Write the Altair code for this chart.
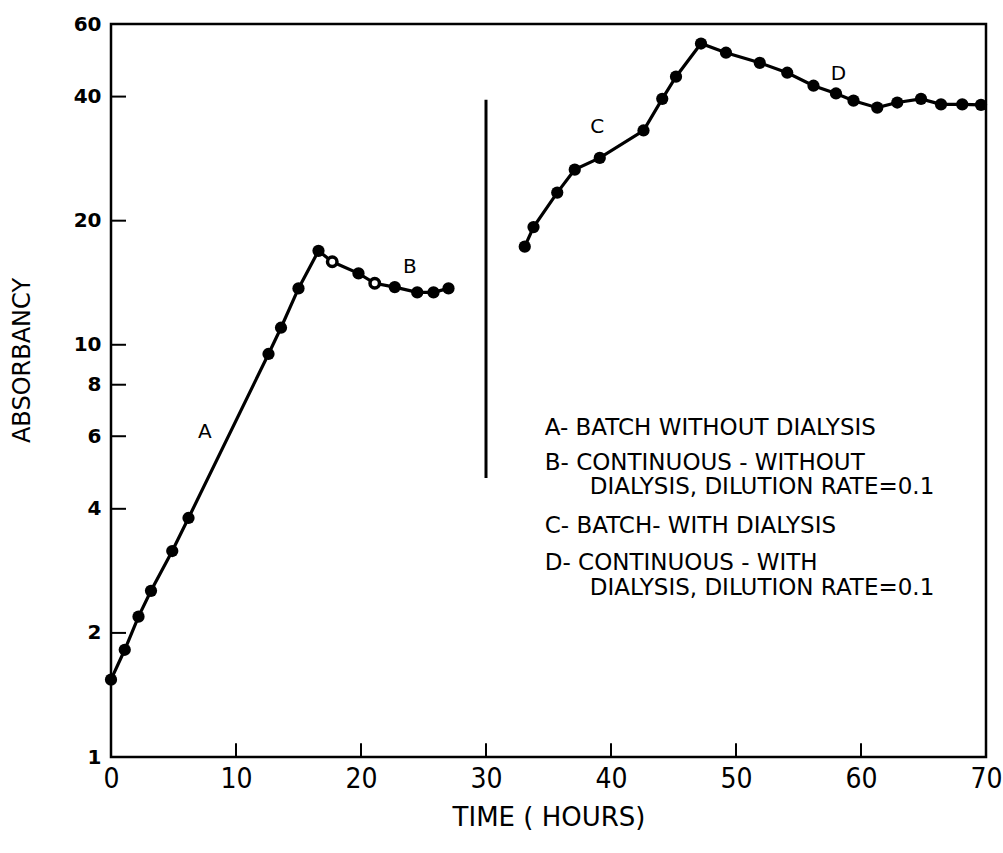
import altair as alt
import pandas as pd

# Curve A + B (batch then continuous, without dialysis)
ab_x = [0, 1.1, 2.2, 3.2, 4.9, 6.2, 12.6, 13.6, 15.0, 16.6, 17.7, 19.8, 21.1, 22.7, 24.5, 25.8, 27.0]
ab_y = [1.54, 1.82, 2.19, 2.53, 3.16, 3.80, 9.5, 11.0, 13.7, 16.9, 15.9, 14.9, 14.1, 13.8, 13.4, 13.4, 13.7]
ab_open = [0, 0, 0, 0, 0, 0, 0, 0, 0, 0, 1, 0, 1, 0, 0, 0, 0]
# Curve C + D (batch then continuous, with dialysis)
cd_x = [33.1, 33.8, 35.7, 37.1, 39.1, 42.6, 44.1, 45.2, 47.2, 49.2, 51.9, 54.1, 56.2, 58.0, 59.4,
        61.3, 62.9, 64.8, 66.4, 68.1, 69.6]
cd_y = [17.3, 19.3, 23.4, 26.6, 28.4, 33.1, 39.5, 44.7, 53.8, 51.1, 48.3, 45.7, 42.5, 40.7, 39.1,
        37.6, 38.7, 39.5, 38.3, 38.3, 38.2]

# separator line
sep_x = [30.0]
sep_y = [4.75]
sep_y2 = [39.3]

# curve letters
letters = ["A", "B", "C", "D"]
letter_x = [7.5, 23.9, 38.9, 58.2]
letter_y = [6.15, 15.4, 33.8, 45.5]

# key text
key_text = ["A- BATCH WITHOUT DIALYSIS", "B- CONTINUOUS -  WITHOUT", "DIALYSIS, DILUTION RATE=0.1",
            "C-  BATCH- WITH DIALYSIS", "D- CONTINUOUS - WITH", "DIALYSIS, DILUTION RATE=0.1"]
key_x = [34.7, 34.7, 38.3, 34.7, 34.7, 38.3]
key_y = [6.29, 5.17, 4.52, 3.64, 2.96, 2.57]

x_ticks = [0, 10, 20, 30, 40, 50, 60, 70]
y_ticks = [1, 2, 4, 6, 8, 10, 20, 40, 60]
x_inner_ticks = [10, 20, 30, 40, 50, 60]
y_inner_ticks = [2, 4, 6, 8, 10, 20, 40]

FONT = "DejaVu Sans"
NARROW = "Liberation Sans Narrow, DejaVu Sans Condensed, DejaVu Sans"

df_ab = pd.DataFrame({"t": ab_x, "a": ab_y, "open": ab_open, "g": "AB"})
df_cd = pd.DataFrame({"t": cd_x, "a": cd_y, "open": [0] * len(cd_x), "g": "CD"})
df = pd.concat([df_ab, df_cd], ignore_index=True)

xs = alt.Scale(domain=[0, 70], nice=False, zero=False)
ys = alt.Scale(type="log", domain=[1, 60], nice=False)

X = alt.X("t:Q", scale=xs, axis=alt.Axis(
    values=x_ticks, ticks=False, domain=False, grid=False, labelFont=NARROW,
    labelFontSize=28, labelColor="black", labelPadding=8, labelFlush=False,
    title="TIME ( HOURS)",
    titleFont=FONT, titleFontSize=26, titleFontWeight="normal", titleColor="black",
    titleY=60, titleBaseline="middle"))
Y = alt.Y("a:Q", scale=ys, axis=alt.Axis(
    values=y_ticks, ticks=False, domain=False, grid=False, labelFont=FONT,
    labelFontSize=20, labelFontWeight="bold", labelColor="black", labelPadding=10, format="~g",
    labelFlush=False,
    title="ABSORBANCY", titleFont=FONT, titleFontSize=24, titleFontWeight="normal",
    titleColor="black", titleX=-89, titleY=336, titleAngle=270, titleAlign="center",
    titleBaseline="middle"))

base = alt.Chart(df)
lines = base.mark_line(color="black", strokeWidth=3.2).encode(x=X, y=Y, detail="g:N")
pts_filled = base.transform_filter("datum.open == 0").mark_circle(
    color="black", size=150, opacity=1).encode(x="t:Q", y="a:Q")
pts_open = base.transform_filter("datum.open == 1").mark_point(
    shape="circle", filled=True, fill="white", stroke="black", strokeWidth=3.5, size=90, opacity=1
).encode(x="t:Q", y="a:Q")

sep = alt.Chart(pd.DataFrame({"x": sep_x, "y": sep_y, "y2": sep_y2})).mark_rule(
    color="black", strokeWidth=3).encode(x="x:Q", y="y:Q", y2="y2:Q")

xt = pd.DataFrame({"x": x_inner_ticks, "y": [1.0] * len(x_inner_ticks),
                   "y2": [1.08] * len(x_inner_ticks)})
xtick = alt.Chart(xt).mark_rule(color="black", strokeWidth=2).encode(
    x="x:Q", y="y:Q", y2="y2:Q")
yt = pd.DataFrame({"y": y_inner_ticks, "x": [0.0] * len(y_inner_ticks),
                   "x2": [1.2] * len(y_inner_ticks)})
ytick = alt.Chart(yt).mark_rule(color="black", strokeWidth=2).encode(
    x="x:Q", x2="x2:Q", y="y:Q")

lab = alt.Chart(pd.DataFrame({"x": letter_x, "y": letter_y, "s": letters})).mark_text(
    font=FONT, fontSize=20, color="black", align="center", baseline="middle").encode(
    x="x:Q", y="y:Q", text="s:N")

key = alt.Chart(pd.DataFrame({"x": key_x, "y": key_y, "s": key_text})).mark_text(
    font=FONT, fontSize=23, color="black", align="left", baseline="middle").encode(
    x="x:Q", y="y:Q", text="s:N")

chart = alt.layer(lines, pts_filled, pts_open, sep, xtick, ytick, lab, key).properties(
    width=875, height=733,
    autosize=alt.AutoSizeParams(type="none"),
    padding={"left": 111, "top": 24, "right": 17, "bottom": 96},
    background="white",
).configure_view(stroke="black", strokeWidth=2.5)

chart.save("out.html", embed_options={"renderer": "svg", "actions": False})
